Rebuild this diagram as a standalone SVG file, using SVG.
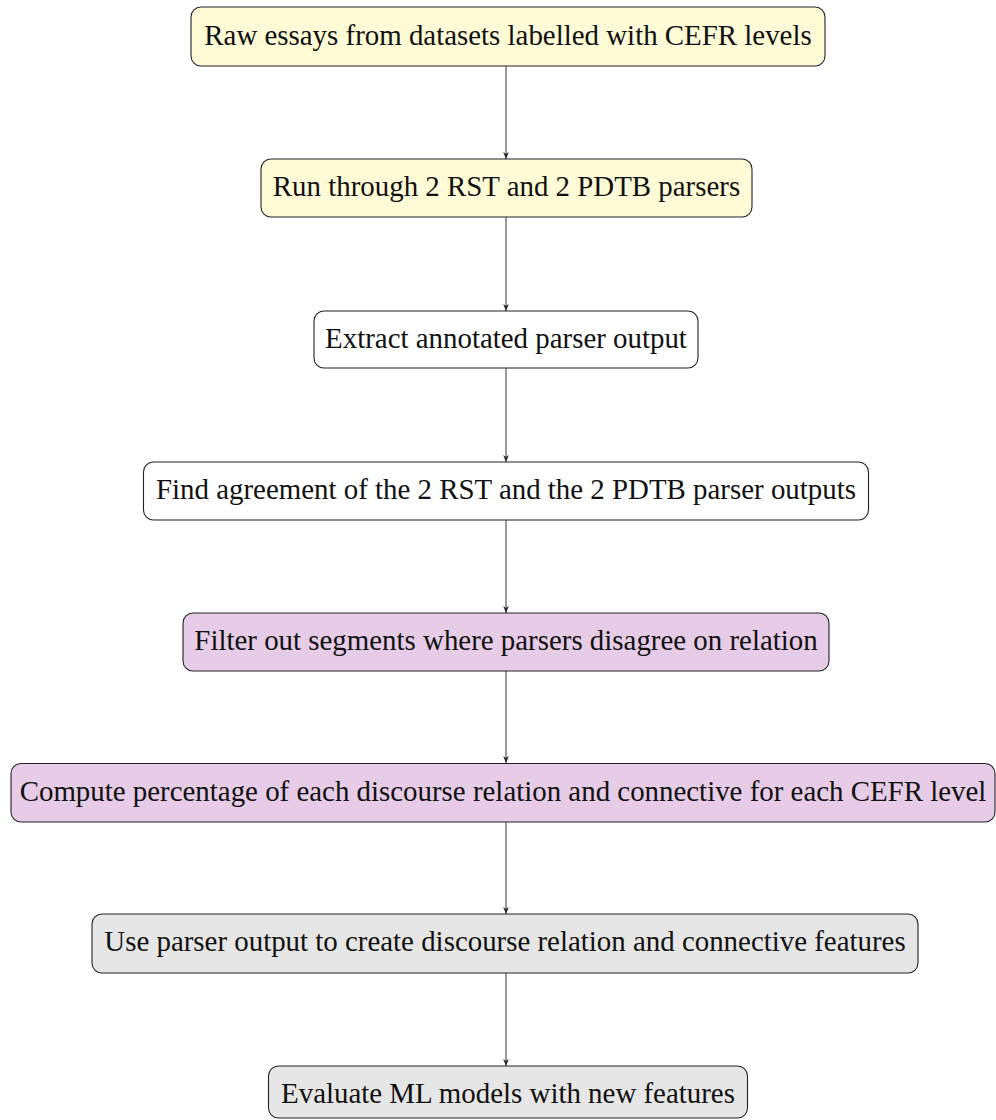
<svg xmlns="http://www.w3.org/2000/svg" width="996" height="1120" viewBox="0 0 996 1120">
<style>
.box{stroke:#222;stroke-width:1.1}
.yel{fill:#FFFBD6}
.vio{fill:#E6CCE6}
.gry{fill:#E6E6E6}
.wht{fill:#FFFFFF}
text{font-family:"Liberation Serif","Times New Roman",serif;font-size:28.9px;fill:#111;text-anchor:middle}
.edge{stroke:#444;stroke-width:1.1;fill:none;marker-end:url(#arr)}
</style>
<defs>
<marker id="arr" viewBox="0 0 10 8" refX="10" refY="4" markerWidth="7" markerHeight="5.6" markerUnits="userSpaceOnUse" orient="auto">
<path d="M0,0 L10,4 L0,8 L3,4 Z" fill="#222"/>
</marker>
</defs>
<rect width="996" height="1120" fill="#fff"/>
<g id="connectors">
<line class="edge" x1="506" y1="66" x2="506" y2="159"/>
<line class="edge" x1="506" y1="217" x2="506" y2="311"/>
<line class="edge" x1="506" y1="368" x2="506" y2="462"/>
<line class="edge" x1="506" y1="520" x2="506" y2="613"/>
<line class="edge" x1="506" y1="671" x2="506" y2="763"/>
<line class="edge" x1="506" y1="822" x2="506" y2="914"/>
<line class="edge" x1="506" y1="973" x2="506" y2="1066"/>
</g>
<g id="n1"><rect class="box yel" x="191" y="7" width="634" height="59" rx="10"/><text x="508" y="45">Raw essays from datasets labelled with CEFR levels</text></g>
<g id="n2"><rect class="box yel" x="261" y="159" width="491" height="58" rx="10"/><text x="506.5" y="196">Run through 2 RST and 2 PDTB parsers</text></g>
<g id="n3"><rect class="box wht" x="314" y="311" width="384" height="57" rx="10"/><text x="506" y="347.5">Extract annotated parser output</text></g>
<g id="n4"><rect class="box wht" x="143.5" y="462" width="725" height="58" rx="10"/><text x="506" y="499">Find agreement of the 2 RST and the 2 PDTB parser outputs</text></g>
<g id="n5"><rect class="box vio" x="183" y="613" width="646" height="58" rx="10"/><text x="506" y="650">Filter out segments where parsers disagree on relation</text></g>
<g id="n6"><rect class="box vio" x="11" y="763.5" width="984" height="58.5" rx="10"/><text x="503" y="800.5">Compute percentage of each discourse relation and connective for each CEFR level</text></g>
<g id="n7"><rect class="box gry" x="92" y="914" width="826" height="59" rx="10"/><text x="505" y="951">Use parser output to create discourse relation and connective features</text></g>
<g id="n8"><rect class="box gry" x="268.5" y="1066" width="479" height="52" rx="10"/><text x="508" y="1103">Evaluate ML models with new features</text></g>
</svg>
